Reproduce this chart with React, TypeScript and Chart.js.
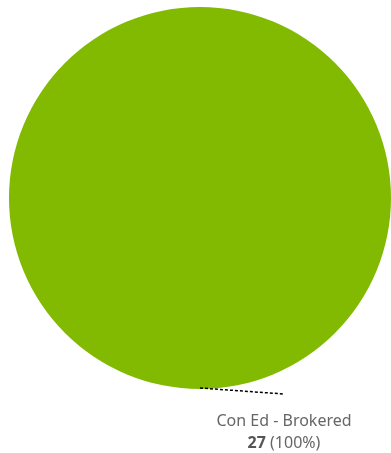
import React, { useEffect, useRef } from "react";
import { Chart, registerables } from "chart.js";

Chart.register(...registerables);

const categories = ["Con Ed - Brokered"];
const values = [27];
const colors = ["#81BA00"];

const labelPlugin = {
  id: "leaderLabels",
  afterDatasetsDraw(chart: any) {
    const ctx = chart.ctx;
    const meta = chart.getDatasetMeta(0);
    const total = values.reduce((a, b) => a + b, 0);
    meta.data.forEach((arc: any, i: number) => {
      const { x, y, outerRadius, startAngle, endAngle } = arc.getProps(
        ["x", "y", "outerRadius", "startAngle", "endAngle"],
        true
      );
      const mid = (startAngle + endAngle) / 2;
      const sx = x + Math.cos(mid) * (outerRadius - 1);
      const sy = y + Math.sin(mid) * (outerRadius - 1);
      const ex = sx + 84;
      const ey = sy + 6;
      ctx.save();
      ctx.strokeStyle = "#000";
      ctx.lineWidth = 1.5;
      ctx.setLineDash([3, 2]);
      ctx.beginPath();
      ctx.moveTo(sx, sy);
      ctx.lineTo(ex, ey);
      ctx.stroke();
      ctx.setLineDash([]);

      const font = "'Noto Sans', 'Open Sans', sans-serif";
      const size = 16;
      ctx.textBaseline = "alphabetic";
      ctx.fillStyle = "#666666";
      ctx.font = `${size}px ${font}`;
      ctx.textAlign = "center";
      ctx.fillText(categories[i], ex, ey + 32);

      const pct = Math.round((values[i] / total) * 100);
      const boldTxt = String(values[i]);
      const restTxt = ` (${pct}%)`;
      ctx.font = `bold ${size}px ${font}`;
      const bw = ctx.measureText(boldTxt).width;
      ctx.font = `${size}px ${font}`;
      const rw = ctx.measureText(restTxt).width;
      const left = ex - (bw + rw) / 2;
      ctx.textAlign = "left";
      ctx.font = `bold ${size}px ${font}`;
      ctx.fillStyle = "#555555";
      ctx.fillText(boldTxt, left, ey + 54);
      ctx.font = `${size}px ${font}`;
      ctx.fillStyle = "#666666";
      ctx.fillText(restTxt, left + bw, ey + 54);
      ctx.restore();
    });
  },
};

export default function App() {
  const ref = useRef<HTMLCanvasElement>(null);
  useEffect(() => {
    if (!ref.current) return;
    const chart = new Chart(ref.current, {
      type: "pie",
      data: {
        labels: categories,
        datasets: [
          {
            data: values,
            backgroundColor: colors,
            borderWidth: 0,
          },
        ],
      },
      options: {
        animation: false,
        responsive: false,
        layout: { padding: { left: 9, right: 0, top: 7, bottom: 64 } },
        plugins: {
          legend: { display: false },
          tooltip: { enabled: false },
        },
      },
      plugins: [labelPlugin],
    });
    return () => chart.destroy();
  }, []);
  return (
    <div style={{ position: "fixed", left: 0, top: 0, width: 391, height: 453, background: "#fff" }}>
      <canvas ref={ref} width={391} height={453} style={{ width: 391, height: 453, display: "block" }} />
    </div>
  );
}
